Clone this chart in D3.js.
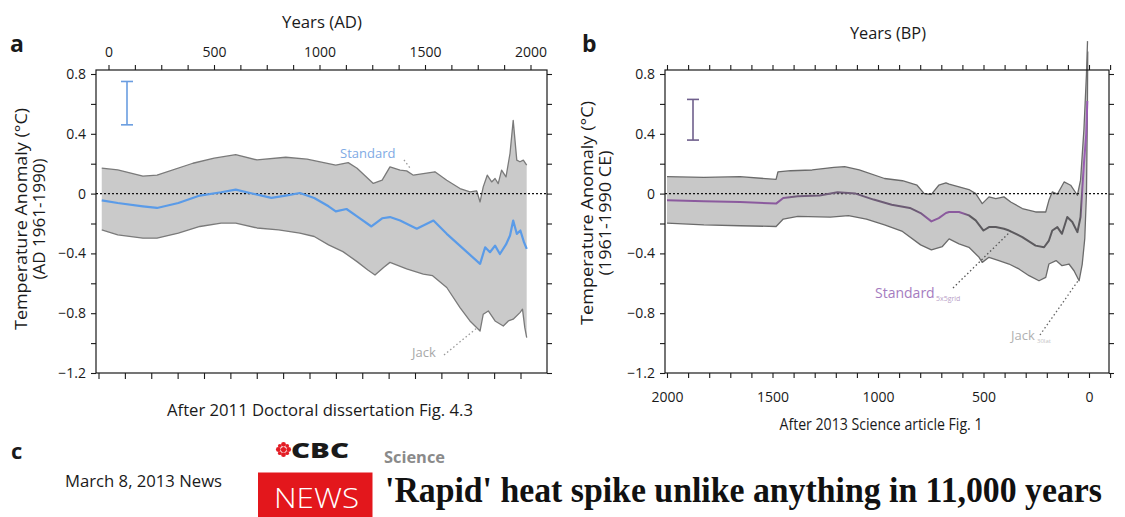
<!DOCTYPE html>
<html>
<head>
<meta charset="utf-8">
<script src="https://cdn.jsdelivr.net/npm/d3@7"></script>
<style>
  body { margin: 0; background: #fff; }
  svg { display: block; }
  text { font-family: 'Open Sans', 'Noto Sans', sans-serif; }
</style>
</head>
<body>
<div id="chart"></div>
<script>
////
// panel a : years AD, [year, anomaly degC]
////
var aUpper = [[-32,0.17],[44,0.158],[163,0.117],[230,0.124],[400,0.203],[501,0.237],[603,0.26],[704,0.225],
  [840,0.243],[941,0.23],[1077,0.19],[1136,0.207],[1178,0.17],[1255,0.068],[1297,0.09],[1334,0.179],
  [1382,0.157],[1413,0.152],[1445,0.123],[1492,0.134],[1547,0.146],[1603,0.089],[1666,0.034],[1713,0.011],
  [1745,0.018],[1761,-0.056],[1776,0.045],[1795,0.123],[1816,0.078],[1832,0.101],[1847,0.067],[1863,0.157],
  [1884,0.112],[1903,0.27],[1918,0.49],[1935,0.224],[1950,0.213],[1966,0.224],[1982,0.19]];
var aLower = [[-32,-0.242],[44,-0.276],[163,-0.298],[230,-0.298],[331,-0.265],[433,-0.22],[534,-0.197],
  [603,-0.197],[704,-0.23],[806,-0.242],[907,-0.265],[975,-0.287],[1043,-0.343],[1111,-0.388],[1178,-0.455],
  [1229,-0.511],[1263,-0.545],[1305,-0.493],[1334,-0.46],[1413,-0.504],[1492,-0.538],[1536,-0.549],
  [1603,-0.628],[1666,-0.762],[1713,-0.852],[1761,-0.919],[1776,-0.807],[1800,-0.785],[1832,-0.852],
  [1871,-0.886],[1895,-0.852],[1918,-0.84],[1950,-0.796],[1962,-0.773],[1973,-0.897],[1982,-0.964]];
var aStandard = [[-32,-0.045],[44,-0.063],[163,-0.085],[230,-0.096],[331,-0.063],[433,-0.013],[534,0.009],
  [603,0.027],[670,0.004],[772,-0.029],[840,-0.013],[907,0.004],[975,-0.029],[1043,-0.085],[1077,-0.119],
  [1128,-0.103],[1178,-0.152],[1246,-0.22],[1297,-0.165],[1334,-0.157],[1382,-0.18],[1461,-0.235],
  [1540,-0.18],[1603,-0.269],[1682,-0.37],[1761,-0.47],[1785,-0.359],[1808,-0.392],[1832,-0.348],
  [1855,-0.404],[1884,-0.34],[1903,-0.28],[1918,-0.18],[1935,-0.269],[1952,-0.247],[1969,-0.325],[1982,-0.37]];
var aErrorBar = [0.46, 0.75];
var aTickLabels = [0, 500, 1000, 1500, 2000];

////
// panel b : years BP, [yearBP, anomaly degC]
////
var bUpper = [[2000,0.113],[1825,0.108],[1654,0.113],[1483,0.095],[1474,0.146],[1414,0.153],[1312,0.158],
  [1209,0.176],[1158,0.18],[1089,0.158],[969,0.101],[884,0.086],[815,0.056],[781,0.0],[747,-0.005],
  [712,0.056],[678,0.072],[663,0.063],[616,0.045],[569,0.027],[537,0.0],[506,-0.067],[474,-0.022],
  [442,-0.034],[403,-0.022],[371,-0.056],[316,-0.1],[253,-0.123],[205,-0.123],[190,-0.045],[174,0.011],
  [150,-0.004],[118,0.078],[87,0.056],[55,-0.011],[40,0.09],[24,0.43],[12,0.8],[7,1.02]];
var bLower = [[2000,-0.197],[1825,-0.209],[1654,-0.215],[1483,-0.22],[1449,-0.17],[1380,-0.152],
  [1226,-0.157],[1140,-0.148],[1055,-0.17],[969,-0.209],[884,-0.253],[798,-0.343],[747,-0.377],
  [695,-0.354],[663,-0.303],[616,-0.336],[569,-0.359],[521,-0.426],[506,-0.46],[474,-0.426],[427,-0.448],
  [379,-0.471],[332,-0.504],[284,-0.549],[237,-0.583],[205,-0.56],[190,-0.471],[156,-0.448],[128,-0.482],
  [95,-0.471],[71,-0.516],[47,-0.583],[32,-0.471],[20,-0.3],[12,0.0],[8,0.5],[6,0.95]];
var bStandard = [[2000,-0.045],[1825,-0.052],[1654,-0.056],[1483,-0.067],[1449,-0.029],[1380,-0.018],
  [1277,-0.013],[1192,0.009],[1106,0.0],[1021,-0.04],[935,-0.074],[849,-0.096],[798,-0.13],[747,-0.186],
  [712,-0.164],[678,-0.13],[663,-0.123],[616,-0.123],[569,-0.146],[537,-0.179],[500,-0.247],[474,-0.224],
  [442,-0.224],[403,-0.235],[379,-0.247],[316,-0.291],[253,-0.348],[213,-0.359],[190,-0.314],[174,-0.247],
  [150,-0.224],[128,-0.269],[103,-0.157],[79,-0.19],[55,-0.258],[40,-0.157],[24,0.2],[13,0.4],[8,0.62]];
var bErrorBar = [0.358, 0.63];
var bTickLabels = [2000, 1500, 1000, 500, 0];

// shared y ticks
var yTicks = [-1.2, -1.0, -0.8, -0.6, -0.4, -0.2, 0, 0.2, 0.4, 0.6, 0.8];
var yLabels = [-1.2, -0.8, -0.4, 0, 0.4, 0.8];

var svg = d3.select("#chart").append("svg")
            .attr("width", 1125)
            .attr("height", 517);

var y = d3.scaleLinear().domain([-1.2, 0.8]).range([373, 74]);
var xA = d3.scaleLinear().domain([0, 2000]).range([108.5, 530.5]);
var xB = d3.scaleLinear().domain([2000, 0]).range([667, 1089]);

var TOP = 70, BOTTOM = 373;

function isIn(list, d) {
  return list.some(function(v) { return Math.abs(v - d) < 1e-6; });
}

function styleAxis(g) {
  g.select(".domain").remove();
  g.selectAll("line").attr("stroke", "#1a1a1a").attr("stroke-width", 1.1);
  g.selectAll("text").attr("fill", "#1a1a1a").attr("font-size", 14)
   .style("font-family", "'Open Sans', sans-serif");
}

function yAxes(x0, x1) {
  var fmt = function(d) {
    if (!isIn(yLabels, d)) return "";
    return Math.abs(d) < 1e-6 ? "0" : d3.format(".1f")(d);
  };
  svg.append("g").attr("transform", "translate(" + x0 + ",0)")
     .call(d3.axisLeft(y).tickValues(yTicks).tickSize(5).tickSizeOuter(0).tickPadding(5).tickFormat(fmt))
     .call(styleAxis);
  svg.append("g").attr("transform", "translate(" + x1 + ",0)")
     .call(d3.axisRight(y).tickValues(yTicks).tickSize(5).tickSizeOuter(0).tickFormat(""))
     .call(styleAxis);
}

function frame(x0, x1) {
  svg.append("rect")
     .attr("x", x0).attr("y", TOP)
     .attr("width", x1 - x0).attr("height", BOTTOM - TOP)
     .attr("fill", "none").attr("stroke", "#1a1a1a").attr("stroke-width", 1.2);
}

function band(x, upper, lower, fill, edge) {
  var line = d3.line().x(function(d) { return x(d[0]); }).y(function(d) { return y(d[1]); });
  svg.append("path")
     .attr("d", line(upper.concat(lower.slice().reverse())) + "Z")
     .attr("fill", fill);
  [upper, lower].forEach(function(s) {
    svg.append("path").attr("d", line(s))
       .attr("fill", "none").attr("stroke", edge).attr("stroke-width", 1.3)
       .attr("stroke-linejoin", "round");
  });
}

function meanLine(x, data, color, width) {
  var line = d3.line().x(function(d) { return x(d[0]); }).y(function(d) { return y(d[1]); });
  svg.append("path").attr("d", line(data))
     .attr("fill", "none").attr("stroke", color).attr("stroke-width", width)
     .attr("stroke-linejoin", "round");
}

function zeroLine(x0, x1) {
  svg.append("line")
     .attr("x1", x0).attr("x2", x1).attr("y1", y(0)).attr("y2", y(0))
     .attr("stroke", "#111").attr("stroke-width", 1.2).attr("stroke-dasharray", "2,2");
}

function errorBar(xpos, vals, color) {
  var g = svg.append("g").attr("stroke", color).attr("stroke-width", 1.6);
  g.append("line").attr("x1", xpos).attr("x2", xpos).attr("y1", y(vals[0])).attr("y2", y(vals[1]));
  vals.forEach(function(v) {
    g.append("line").attr("x1", xpos - 6).attr("x2", xpos + 6).attr("y1", y(v)).attr("y2", y(v));
  });
}

function label(txt, x, yy, opts) {
  opts = opts || {};
  var t = svg.append("text").text(txt)
     .attr("x", x).attr("y", yy)
     .attr("font-size", opts.size || 15)
     .attr("fill", opts.fill || "#1a1a1a")
     .attr("text-anchor", opts.anchor || "start");
  if (opts.weight) t.attr("font-weight", opts.weight);
  if (opts.family) t.style("font-family", opts.family);
  if (opts.len) t.attr("textLength", opts.len).attr("lengthAdjust", "spacingAndGlyphs");
  if (opts.rotate) t.attr("transform", "rotate(-90," + x + "," + yy + ")");
  return t;
}

function leader(x1, y1, x2, y2, color) {
  svg.append("line").attr("x1", x1).attr("y1", y1).attr("x2", x2).attr("y2", y2)
     .attr("stroke", color).attr("stroke-width", 1.3).attr("stroke-dasharray", "1.5,2.5");
}

// ---------------- panel a ----------------
var aL = 96, aR = 547;
band(xA, aUpper, aLower, "#cacaca", "#7a7a7a");
zeroLine(aL, aR);
meanLine(xA, aStandard, "#5a9be8", 2.2);
frame(aL, aR);
yAxes(aL, aR);

svg.append("g").attr("transform", "translate(0," + TOP + ")")
   .call(d3.axisTop(xA).tickValues(d3.range(0, 2001, 125)).tickSize(5).tickSizeOuter(0).tickPadding(8)
     .tickFormat(function(d) { return isIn(aTickLabels, d) ? d : ""; }))
   .call(styleAxis);
svg.append("g").attr("transform", "translate(-10," + BOTTOM + ")")
   .call(d3.axisBottom(xA).tickValues(d3.range(0, 2001, 125)).tickSize(6).tickSizeOuter(0).tickFormat(""))
   .call(styleAxis);

errorBar(127, aErrorBar, "#6a9de0");

label("Standard", 340, 158, {size: 13, fill: "#80aae4"});
leader(404, 160, 410, 168, "#9a9a9a");
label("Jack", 412, 357, {size: 13, fill: "#a8a8a8"});
leader(444, 355, xA(1745), y(-0.9), "#999");

label("a", 10, 52, {size: 23, weight: 700});
label("Years (AD)", 322, 28, {size: 16, anchor: "middle", len: 80});
label("Temperature Anomaly (\u00B0C)", 27, 219, {size: 16, anchor: "middle", rotate: true, len: 222});
label("(AD 1961-1990)", 45, 219, {size: 16, anchor: "middle", rotate: true, len: 121});
label("After 2011 Doctoral dissertation Fig. 4.3", 320, 416, {size: 16, anchor: "middle", len: 306});

// ---------------- panel b ----------------
var bL = 665, bR = 1109;

var grad = svg.append("defs").append("linearGradient")
   .attr("id", "bMean").attr("gradientUnits", "userSpaceOnUse")
   .attr("x1", xB(2000)).attr("x2", xB(0)).attr("y1", 0).attr("y2", 0);
[[2000, "#8b5a9e"], [1460, "#8b5a9e"], [1400, "#74607e"], [820, "#6a5a72"], [760, "#8b5a9e"],
 [600, "#8b5a9e"], [560, "#5c5a5e"], [40, "#5c5a5e"], [28, "#9a5cb4"], [0, "#9a5cb4"]]
  .forEach(function(s) {
    grad.append("stop").attr("offset", (2000 - s[0]) / 2000).attr("stop-color", s[1]);
  });

band(xB, bUpper, bLower, "#c8c8c8", "#6b6b6b");
zeroLine(bL, bR);
meanLine(xB, bStandard, "url(#bMean)", 2);
frame(bL, bR);
yAxes(bL, bR);

svg.append("g").attr("transform", "translate(0," + TOP + ")")
   .call(d3.axisTop(xB).tickValues(d3.range(-100, 2001, 100)).tickSize(5).tickSizeOuter(0).tickFormat(""))
   .call(styleAxis);
svg.append("g").attr("transform", "translate(0," + BOTTOM + ")")
   .call(d3.axisBottom(xB).tickValues(d3.range(-100, 2001, 100)).tickSize(5).tickSizeOuter(0).tickPadding(14)
     .tickFormat(function(d) { return isIn(bTickLabels, d) ? d : ""; }))
   .call(styleAxis);

errorBar(693, bErrorBar, "#6f5f8c");

label("Standard", 875, 298, {size: 14, fill: "#a57cc0"});
label("5x5grid", 936, 301, {size: 7, fill: "#b9a2c8"});
leader(953, 288, xB(370), y(-0.25), "#555");
label("Jack", 1011, 340, {size: 13, fill: "#b0b0b0"});
label("30lat", 1037, 343, {size: 6, fill: "#c4c4c4"});
leader(1040, 335, xB(50), y(-0.58), "#666");

label("b", 582, 52, {size: 23, weight: 700});
label("Years (BP)", 888, 39, {size: 16, anchor: "middle", len: 76});
label("Temperature Anomaly (\u00B0C)", 593, 213, {size: 16, anchor: "middle", rotate: true, len: 224});
label("(1961-1990 CE)", 611, 213, {size: 16, anchor: "middle", rotate: true, len: 125});
label("After 2013 Science article Fig. 1", 881, 430, {size: 16, anchor: "middle", len: 203});

// ---------------- panel c ----------------
label("c", 11, 459, {size: 22, weight: 700});
label("March 8, 2013 News", 65, 487, {size: 16, len: 157});

// CBC gem
var gem = svg.append("g").attr("fill", "#e31d25").attr("transform", "translate(283.5,449.5)");
gem.append("circle").attr("r", 2.6);
d3.range(8).forEach(function(i) {
  var a = i * Math.PI / 4;
  gem.append("circle").attr("cx", 5.2 * Math.cos(a)).attr("cy", 5.2 * Math.sin(a))
     .attr("r", i % 2 ? 1.9 : 2.4);
});
label("CBC", 291, 457.5, {size: 21, weight: 800, len: 58});
label("Science", 384, 463, {size: 16, weight: 700, fill: "#8a8a8a", len: 61});

svg.append("rect").attr("x", 258).attr("y", 472.5).attr("width", 114.5).attr("height", 45)
   .attr("fill", "#e3171c");
label("NEWS", 274, 508, {size: 28, weight: 300, fill: "#fff", len: 85});

// headline: narrow serif, stretched vertically to the reference's tall glyphs
svg.append("text")
   .text("'Rapid' heat spike unlike anything in 11,000 years")
   .attr("transform", "translate(385,502) scale(1,1.2)")
   .attr("font-size", 29)
   .attr("font-weight", 700)
   .attr("fill", "#111")
   .attr("textLength", 717)
   .attr("lengthAdjust", "spacingAndGlyphs")
   .style("font-family", "'Liberation Serif', 'DejaVu Serif', serif");
</script>
</body>
</html>
